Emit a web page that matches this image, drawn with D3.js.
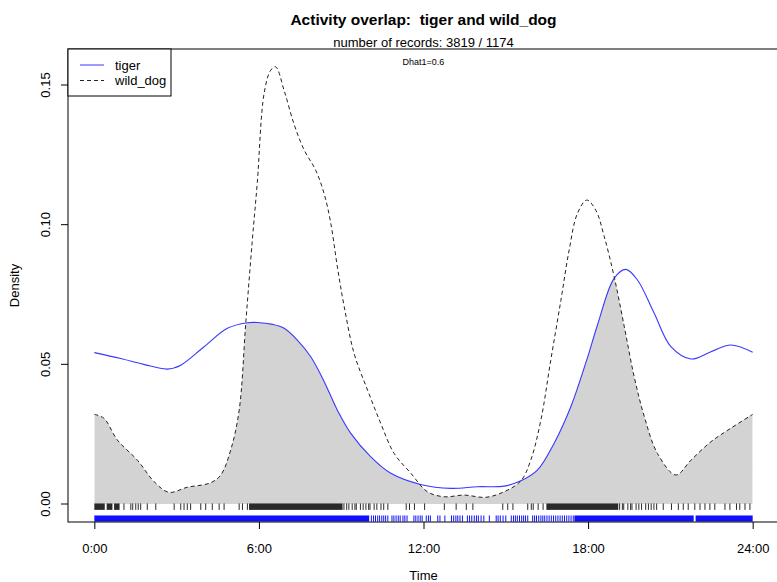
<!DOCTYPE html>
<html lang="en">
<head>
    <meta charset="UTF-8">
    <title>Activity overlap</title>
    <script src="https://cdn.jsdelivr.net/npm/d3@7"></script>
    <style>
        body {
            margin: 0;
            background: #fff;
        }
        text {
            font-family: "Liberation Sans", Arial, sans-serif;
            fill: #000;
            white-space: pre;
        }
    </style>
</head>
<body>
    <script>
        // kernel density curves, hours of day -> density
        const tigerHours = [0, 0.96, 1.8, 2.66, 3.15, 4.0, 4.85, 5.58, 5.94, 6.5, 6.92, 7.4, 7.89, 8.38, 8.86, 9.35,
            10.08, 10.81, 11.9, 13.0, 13.97, 14.94, 15.55, 16.16, 16.76, 17.37, 17.98, 18.34, 18.95, 19.38, 19.8,
            20.41, 21.02, 21.75, 22.48, 23.2, 24];
        const tigerDensity = [0.0542, 0.0521, 0.0500, 0.0483, 0.0497, 0.0563, 0.0629, 0.0649, 0.0650, 0.0643, 0.0629,
            0.0587, 0.0527, 0.0438, 0.0336, 0.0253, 0.0169, 0.0110, 0.0070, 0.0056, 0.0062, 0.0064, 0.0083, 0.0122,
            0.0217, 0.0348, 0.0525, 0.0640, 0.0808, 0.0840, 0.0802, 0.0683, 0.0563, 0.0519, 0.0545, 0.0569, 0.0543];

        const dogHours = [0, 0.35, 0.84, 1.57, 2.18, 2.72, 3.39, 4.24, 4.61, 4.97, 5.28, 5.52, 5.76, 5.94, 6.19, 6.43,
            6.61, 6.92, 7.28, 7.65, 8.07, 8.38, 8.62, 8.86, 9.11, 9.47, 9.96, 10.44, 10.93, 11.54, 12.14, 12.75, 13.48,
            14.27, 14.94, 15.55, 15.91, 16.28, 16.64, 17.01, 17.31, 17.61, 17.95, 18.28, 18.59, 18.95, 19.32, 19.68,
            20.05, 20.53, 21.2, 21.75, 22.48, 23.2, 24];
        const dogDensity = [0.0321, 0.0307, 0.0229, 0.0157, 0.0080, 0.0042, 0.0060, 0.0076, 0.0104, 0.0193, 0.0336,
            0.0647, 0.0945, 0.1150, 0.1470, 0.1553, 0.1565, 0.1480, 0.1360, 0.1267, 0.1195, 0.1110, 0.1005, 0.0849,
            0.0706, 0.0539, 0.0408, 0.0289, 0.0181, 0.0110, 0.0044, 0.0026, 0.0032, 0.0024, 0.0044, 0.0083, 0.0157,
            0.0301, 0.0515, 0.0730, 0.0909, 0.1040, 0.1088, 0.1052, 0.0957, 0.0814, 0.0635, 0.0456, 0.0313, 0.0181,
            0.0104, 0.0157, 0.0223, 0.0271, 0.0321];

        // record times (rug): solid stretches and single records
        const dogRugBands = [[0, 0.38], [0.45, 0.66], [0.72, 0.92], [5.64, 9.05], [16.48, 19.1]];
        const dogRugTimes = [1.08, 1.33, 1.40, 1.51, 1.60, 1.69, 1.93, 2.24, 2.91, 3.15, 3.27, 3.39, 3.51, 3.88, 4.06,
            4.30, 4.55, 4.73, 5.28, 5.40, 5.58, 9.1, 9.2, 9.28, 9.4, 9.5, 9.55, 9.7, 9.8, 9.9, 10.0, 10.05, 10.2, 10.3,
            10.45, 10.55, 10.7, 11.37, 11.49, 11.67, 12.04, 12.76, 13.19, 13.56, 13.80, 14.89, 15.07, 15.26, 15.80,
            15.93, 16.0, 16.18, 16.36, 19.15, 19.25, 19.3, 19.45, 19.55, 19.6, 19.75, 19.85, 19.95, 20.1, 20.2, 20.3,
            20.4, 20.5, 20.74, 21.04, 21.29, 21.47, 21.65, 21.89, 22.08, 22.26, 22.44, 22.62, 22.99, 23.17, 23.41,
            23.53, 23.72, 23.9];
        const tigerRugBands = [[0, 10.02], [17.5, 21.85], [21.92, 24]];
        const tigerRugTimes = [10.1, 10.18, 10.25, 10.33, 10.4, 10.48, 10.55, 10.62, 10.7, 10.85, 10.92, 11.0, 11.08,
            11.15, 11.25, 11.32, 11.4, 11.65, 11.72, 11.8, 11.88, 11.95, 12.1, 12.18, 12.25, 12.52, 12.6, 12.78, 13.02,
            13.1, 13.18, 13.25, 13.33, 13.42, 13.6, 13.68, 13.76, 13.85, 13.93, 14.0, 14.1, 14.2, 14.4, 14.65, 14.72,
            14.8, 14.9, 15.0, 15.2, 15.28, 15.35, 15.42, 15.5, 15.58, 15.65, 15.72, 15.8, 15.98, 16.05, 16.12, 16.2,
            16.28, 16.35, 16.42, 16.5, 16.58, 16.66, 16.74, 16.82, 16.9, 16.98, 17.06, 17.14, 17.22, 17.3, 17.38, 17.46];

        const hourTicks = [0, 6, 12, 18, 24];
        const hourLabels = ["0:00", "6:00", "12:00", "18:00", "24:00"];
        const densityTicks = [0, 0.05, 0.10, 0.15];
        const densityLabels = ["0.00", "0.05", "0.10", "0.15"];

        const width = 777, height = 582;
        const plot = { left: 68, right: 779, top: 49, bottom: 522 };
        const fontSize = 13;

        const x = d3.scaleLinear().domain([-0.96, 24.96]).range([plot.left, plot.right]);
        const y = d3.scaleLinear().domain([-0.00644, 0.16289]).range([plot.bottom, plot.top]);

        const svg = d3.select("body").append("svg")
            .attr("width", width)
            .attr("height", height);

        const tiger = tigerHours.map((h, i) => [h, tigerDensity[i]]);
        const dog = dogHours.map((h, i) => [h, dogDensity[i]]);

        const line = d3.line()
            .x(d => x(d[0]))
            .y(d => y(d[1]))
            .curve(d3.curveCatmullRom.alpha(0.5));
        const area = d3.area()
            .x(d => x(d[0]))
            .y0(y(0))
            .y1(d => y(d[1]))
            .curve(d3.curveCatmullRom.alpha(0.5));

        // overlap = area under tiger clipped to area under wild_dog
        svg.append("clipPath").attr("id", "dogArea")
            .append("path").attr("d", area(dog));
        svg.append("path")
            .attr("d", area(tiger))
            .attr("fill", "#d3d3d3")
            .attr("clip-path", "url(#dogArea)");

        svg.append("path")
            .attr("d", line(tiger))
            .attr("fill", "none")
            .attr("stroke", "#3838ff")
            .attr("stroke-width", 1.1);
        svg.append("path")
            .attr("d", line(dog))
            .attr("fill", "none")
            .attr("stroke", "#222")
            .attr("stroke-width", 1)
            .attr("stroke-dasharray", "4,3");

        // rugs
        function rug(bands, times, y0, y1, colour) {
            const g = svg.append("g");
            g.selectAll("rect").data(bands).join("rect")
                .attr("x", d => x(d[0]))
                .attr("width", d => x(d[1]) - x(d[0]))
                .attr("y", y(y0))
                .attr("height", y(y1) - y(y0))
                .attr("fill", colour);
            g.selectAll("line").data(times).join("line")
                .attr("x1", d => x(d)).attr("x2", d => x(d))
                .attr("y1", y(y0)).attr("y2", y(y1))
                .attr("stroke", colour)
                .attr("stroke-width", 1);
        }
        rug(dogRugBands, dogRugTimes, 0.0002, -0.0021, "#2a2a2a");
        rug(tigerRugBands, tigerRugTimes, -0.0041, -0.0063, "#1010ff");

        // plot frame
        svg.append("rect")
            .attr("x", plot.left).attr("y", plot.top)
            .attr("width", plot.right - plot.left).attr("height", plot.bottom - plot.top)
            .attr("fill", "none").attr("stroke", "#000").attr("stroke-width", 1);

        const xAxis = svg.append("g")
            .attr("transform", `translate(0,${plot.bottom})`)
            .call(d3.axisBottom(x).tickValues(hourTicks).tickFormat((d, i) => hourLabels[i]).tickSize(7).tickSizeOuter(0));
        xAxis.select(".domain").remove();
        xAxis.selectAll("text").attr("font-size", fontSize).attr("dy", "1.6em").attr("font-family", "Liberation Sans, Arial, sans-serif");

        const yAxis = svg.append("g")
            .attr("transform", `translate(${plot.left},0)`)
            .call(d3.axisLeft(y).tickValues(densityTicks).tickFormat((d, i) => densityLabels[i]).tickSize(7).tickSizeOuter(0));
        yAxis.select(".domain").remove();
        yAxis.selectAll(".tick").attr("transform", null);
        yAxis.selectAll(".tick line").attr("y1", d => y(d)).attr("y2", d => y(d));
        yAxis.selectAll("text")
            .attr("font-size", fontSize)
            .attr("font-family", "Liberation Sans, Arial, sans-serif")
            .attr("text-anchor", "middle")
            .attr("transform", d => `translate(-23,${y(d)}) rotate(-90)`)
            .attr("x", 0).attr("y", 0).attr("dy", "0.35em");

        // titles
        const midX = (plot.left + plot.right) / 2;
        svg.append("text").attr("x", midX).attr("y", 25)
            .attr("text-anchor", "middle").attr("font-size", 15.5).attr("font-weight", "bold")
            .text("Activity overlap:  tiger and wild_dog");
        svg.append("text").attr("x", midX).attr("y", 47)
            .attr("text-anchor", "middle").attr("font-size", fontSize)
            .text("number of records: 3819 / 1174");
        svg.append("text").attr("x", midX).attr("y", 65)
            .attr("text-anchor", "middle").attr("font-size", 9)
            .text("Dhat1=0.6");
        svg.append("text").attr("x", midX).attr("y", 580)
            .attr("text-anchor", "middle").attr("font-size", fontSize)
            .text("Time");
        svg.append("text")
            .attr("transform", `translate(19,${(plot.top + plot.bottom) / 2}) rotate(-90)`)
            .attr("text-anchor", "middle").attr("font-size", fontSize)
            .text("Density");

        // legend
        const legend = svg.append("g");
        legend.append("rect")
            .attr("x", plot.left).attr("y", plot.top).attr("width", 103).attr("height", 47)
            .attr("fill", "#fff").attr("stroke", "#000").attr("stroke-width", 1);
        const legendItems = [
            { name: "tiger", stroke: "#3838ff", dash: null },
            { name: "wild_dog", stroke: "#222", dash: "4,3" }
        ];
        legendItems.forEach((d, i) => {
            const ly = 65 + i * 15.5;
            legend.append("line")
                .attr("x1", 80).attr("x2", 104).attr("y1", ly).attr("y2", ly)
                .attr("stroke", d.stroke).attr("stroke-width", 1)
                .attr("stroke-dasharray", d.dash);
            legend.append("text")
                .attr("x", 115).attr("y", ly + 4.5)
                .attr("font-size", fontSize)
                .text(d.name);
        });
    </script>
</body>
</html>
